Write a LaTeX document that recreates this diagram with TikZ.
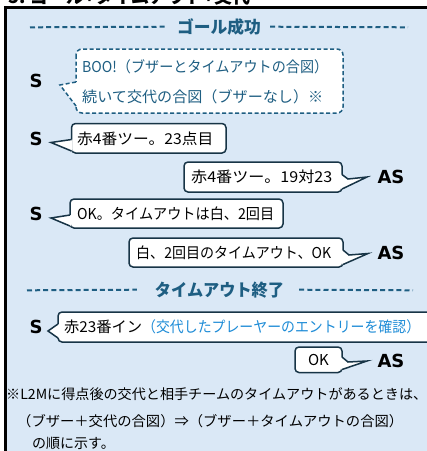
\documentclass[tikz,border=0pt]{standalone}
\usepackage{graphicx}
\usepackage{fontspec}
\setmainfont{Noto Sans CJK JP}
\newfontfamily\spkfont{DejaVu Sans}[BoldFont={DejaVu Sans Bold}]
\definecolor{bg}{RGB}{218,232,246}
\definecolor{hdr}{RGB}{30,94,130}
\definecolor{bubline}{RGB}{23,52,70}
\definecolor{bluetext}{RGB}{30,140,215}
\newcommand\fitw[2]{\resizebox{#1}{\height}{#2}}
\begin{document}
\begin{tikzpicture}[x=1pt,y=-1pt,
  hdrtext/.style={text=hdr,font=\bfseries\fontsize{17}{17}\selectfont,inner sep=0pt},
  dashline/.style={draw=hdr,line width=2pt,dash pattern=on 5pt off 3.1pt},
  spk/.style={font=\spkfont\bfseries\fontsize{18}{18}\selectfont,inner sep=0pt},
  bubtext/.style={anchor=west,inner sep=0pt,font=\fontsize{15}{15}\selectfont},
  bubbox/.style={draw=bubline,line width=1.5pt,fill=white,rounded corners=4pt},
  tailline/.style={draw=bubline,line width=1.5pt,line join=miter},
  notetext/.style={anchor=west,inner sep=0pt,font=\fontsize{14}{14}\selectfont}]
\useasboundingbox (0,0) rectangle (427,451);
% title (cut off)
\begin{scope}
\clip (0,0) rectangle (427,6);
\node[anchor=base west,inner sep=0pt,font=\bfseries\fontsize{18}{18}\selectfont] (title) at (8,3.5) {5. ゴール+タイムアウト+交代};
\end{scope}
% frame
\fill[bg] (5.3,7.3) rectangle (440,460);
\draw[line width=2.6pt] (5.3,460) -- (5.3,7.3) -- (440,7.3);
% header 1
\node[hdrtext] (h1) at (219,27) {\fitw{84pt}{ゴール成功}};
\coordinate (h1l) at (30,27.3);
\coordinate (h1r) at (408,27.3);
\draw[dashline] (h1l) -- ([xshift=-10pt,yshift=0.3pt]h1.west);
\draw[dashline] ([xshift=9pt,yshift=0.3pt]h1.east) -- (h1r);
% dashed callout
\draw[draw=hdr,line width=1.5pt,dash pattern=on 4pt off 2.5pt,fill=white,rounded corners=6pt] (76,49) rectangle (343,113);
\fill[white] (77,82) -- (60,85) -- (77,106) -- cycle;
\draw[draw=hdr,line width=1.5pt,dash pattern=on 4pt off 2.5pt] (76,82) -- (60,85) -- (76,106);
\node[spk] (s1) at (36,81) {S};
\node[bubtext,text=hdr] (c1) at (82,67) {\fitw{246pt}{BOO!（ブザーとタイムアウトの合図）}};
\node[bubtext,text=hdr] (c2) at (82,97) {\fitw{241pt}{続いて交代の合図（ブザーなし）※}};
% row 2
\node[spk] (s2) at (36,139) {S};
\draw[bubbox] (71.5,123.5) rectangle (226,153);
\fill[white] (72.5,139.5) -- (51,142.5) -- (72.5,151) -- cycle;
\draw[tailline] (71.5,139.5) -- (51,142.5) -- (71.5,151);
\node[bubtext] (t2) at (77,138.5) {\fitw{136pt}{赤4番ツー。23点目}};
% row 3
\node[spk] (a3) at (391,177) {AS};
\draw[bubbox] (184,162) rectangle (342,192);
\fill[white] (341,174.5) -- (348,179) -- (367,177) -- (341,189) -- cycle;
\draw[tailline] (342,174.5) -- (348,179) -- (367,177) -- (342,189);
\node[bubtext] (t3) at (191,177) {\fitw{141pt}{赤4番ツー。19対23}};
% row 4
\node[spk] (s4) at (36,214) {S};
\draw[bubbox] (70,199) rectangle (283,228);
\fill[white] (71,215) -- (51,218) -- (71,226) -- cycle;
\draw[tailline] (70,215) -- (51,218) -- (70,226);
\node[bubtext] (t4) at (77,213.5) {\fitw{197pt}{OK。タイムアウトは白、2回目}};
% row 5
\node[spk] (a5) at (391,253) {AS};
\draw[bubbox] (129,238) rectangle (343,267);
\fill[white] (342,250) -- (349,255) -- (368,253.5) -- (342,264.5) -- cycle;
\draw[tailline] (343,250) -- (349,255) -- (368,253.5) -- (343,264.5);
\node[bubtext] (t5) at (136,252.5) {\fitw{195pt}{白、2回目のタイムアウト、OK}};
% header 2
\node[hdrtext] (h2) at (219.5,290) {\fitw{129pt}{タイムアウト終了}};
\coordinate (h2l) at (27,290.3);
\coordinate (h2r) at (413,290.3);
\draw[dashline] (h2l) -- ([xshift=-18pt,yshift=0.3pt]h2.west);
\draw[dashline] ([xshift=15pt,yshift=0.3pt]h2.east) -- (h2r);
% row 6
\node[spk] (s6) at (36,327) {S};
\draw[bubbox] (58,312) rectangle (445,342);
\fill[white] (59,324) -- (48,331) -- (59,338) -- cycle;
\draw[tailline] (58,324) -- (48,331) -- (58,338);
\node[bubtext] (t6) at (64,327) {\fitw{78pt}{赤23番イン}\textcolor{bluetext}{\fitw{278pt}{（交代したプレーヤーのエントリーを確認）}}};
% row 7
\node[spk] (a7) at (391,361) {AS};
\draw[bubbox] (295,347) rectangle (342,372.5);
\fill[white] (341,357) -- (348,362) -- (367,361) -- (341,369.5) -- cycle;
\draw[tailline] (342,357) -- (348,362) -- (367,361) -- (342,369.5);
\node[inner sep=0pt,font=\fontsize{15}{15}\selectfont] (t7) at (318.5,360) {OK};
% note
\node[notetext] (n1) at (6,394) {\fitw{421pt}{※L2Mに得点後の交代と相手チームのタイムアウトがあるときは、}};
\node[notetext] (n2) at (17,421) {\fitw{386pt}{（ブザー＋交代の合図）⇒（ブザー＋タイムアウトの合図）}};
\node[notetext] (n3) at (32,443) {の順に示す。};
\end{tikzpicture}
\end{document}
